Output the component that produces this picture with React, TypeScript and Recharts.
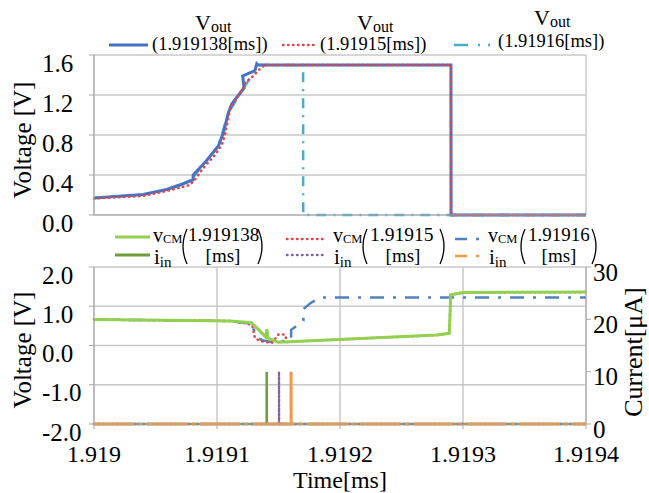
import { LineChart, Line, XAxis, YAxis, CartesianGrid } from 'recharts';

const SERIF = '"Liberation Serif", "Times New Roman", "DejaVu Serif", serif';
const GRID = '#C8C8C8';
const AXIS = '#A6A6A6';

const TIME_TICKS = [1.919, 1.9191, 1.9192, 1.9193, 1.9194];
const TOP_V_TICKS = [0, 0.4, 0.8, 1.2, 1.6];
const BOTTOM_V_TICKS = [-2, -1, 0, 1, 2];
const CURRENT_TICKS = [0, 10, 20, 30];

// Vout, top panel
const VOUT_138_T = [1.919, 1.9190401, 1.9190591, 1.9190699, 1.919078, 1.9190805, 1.9190806, 1.9190916, 1.9191011, 1.9191051, 1.9191092, 1.919112, 1.9191201, 1.919122, 1.9191209, 1.9191309, 1.9191323, 1.919133, 1.9192902, 1.9192903, 1.9194];
const VOUT_138_V = [0.17, 0.205, 0.255, 0.3, 0.34, 0.35, 0.4, 0.545, 0.69, 0.82, 1.02, 1.11, 1.24, 1.27, 1.39, 1.445, 1.51, 1.5, 1.5, 0, 0];
const VOUT_150_T = [1.919, 1.9190398, 1.9190591, 1.919078, 1.9190821, 1.9190902, 1.9190984, 1.9191038, 1.9191065, 1.9191106, 1.919116, 1.9191214, 1.9191228, 1.9191295, 1.9191363, 1.9191404, 1.9192902, 1.9192903, 1.9194];
const VOUT_150_V = [0.165, 0.19, 0.24, 0.3, 0.355, 0.49, 0.6, 0.7, 0.8, 1.055, 1.17, 1.27, 1.32, 1.39, 1.48, 1.5, 1.5, 0, 0];
const VOUT_160_T = [1.919, 1.9190401, 1.9190591, 1.919078, 1.9190916, 1.9191011, 1.9191092, 1.9191201, 1.9191309, 1.919134, 1.91917, 1.9191701, 1.9194];
const VOUT_160_V = [0.17, 0.205, 0.255, 0.34, 0.545, 0.69, 1.02, 1.24, 1.445, 1.5, 1.5, 0, 0];

// vCM, bottom panel (left axis)
const VCM_138_T = [1.919, 1.9191106, 1.9191282, 1.9191398, 1.9191404, 1.9191406, 1.9191415, 1.9191498, 1.9192786, 1.9192889, 1.91929, 1.9193002, 1.9194];
const VCM_138_V = [0.66, 0.625, 0.58, 0.213, 0.385, 0.385, 0.19, 0.085, 0.265, 0.31, 1.29, 1.35, 1.36];
const VCM_150_T = [1.919, 1.9191106, 1.9191228, 1.9191285, 1.9191295, 1.9191309, 1.919135, 1.919139, 1.9191447, 1.9191498, 1.9191553, 1.9191569, 1.9192786, 1.9192889, 1.91929, 1.9193002, 1.9194];
const VCM_150_V = [0.66, 0.625, 0.57, 0.52, 0.4, 0.18, 0.12, 0.09, 0.07, 0.28, 0.28, 0.09, 0.265, 0.31, 1.29, 1.35, 1.36];
const VCM_160_T = [1.919, 1.9191106, 1.9191187, 1.9191282, 1.9191295, 1.9191336, 1.9191376, 1.9191458, 1.9191602, 1.9191603, 1.9191702, 1.9191703, 1.9191756, 1.9191837, 1.9194];
const VCM_160_V = [0.66, 0.625, 0.585, 0.56, 0.43, 0.18, 0.13, 0.08, 0.14, 0.4, 0.63, 0.93, 1.07, 1.22, 1.22];

// iin, bottom panel (right axis, uA)
const IIN_138_T = [1.919, 1.9191404, 1.9191404, 1.9191405, 1.9194];
const IIN_138_I = [0, 0, 10, 0, 0];
const IIN_150_T = [1.919, 1.9191504, 1.9191504, 1.9191505, 1.9194];
const IIN_150_I = [0, 0, 10, 0, 0];
const IIN_160_T = [1.919, 1.9191602, 1.9191602, 1.9191603, 1.9194];
const IIN_160_I = [0, 0, 10, 0, 0];

const pts = (t: number[], v: number[]) => t.map((x, i) => ({ t: x, v: v[i] }));

const txt = { fontFamily: SERIF, fill: '#000' };

const leftTick = (p: any) => (
  <text x={42} y={p.y + 8} dominantBaseline="central" fontSize={25} style={txt}>
    {Number(p.payload.value).toFixed(1)}
  </text>
);

const rightTick = (p: any) => (
  <text x={593} y={p.y + 5} dominantBaseline="central" fontSize={25} style={txt}>
    {p.payload.value}
  </text>
);

const timeTick = (p: any) => (
  <text x={p.x} y={214} textAnchor="middle" dominantBaseline="central" fontSize={24} style={txt}>
    {String(p.payload.value)}
  </text>
);

const Paren = ({ x, right }: { x: number; right?: boolean }) => {
  const d = right ? `M ${x} 229 Q ${x + 8} 246.5 ${x} 264` : `M ${x + 6} 229 Q ${x - 2} 246.5 ${x + 6} 264`;
  return <path d={d} fill="none" stroke="#000" strokeWidth={1.3} />;
};

const Vcm = ({ x }: { x: number }) => (
  <>
    <text x={x} y={242} fontSize={20}>v<tspan fontSize={12.5} dy={1}>CM</tspan></text>
    <text x={x + 1} y={264} fontSize={21}>i<tspan fontSize={15} dy={3}>in</tspan></text>
  </>
);

export default function App() {
  return (
    <div style={{ position: 'absolute', left: 0, top: 0, width: 649, height: 493, background: '#fff', fontFamily: SERIF }}>
      <div style={{ position: 'absolute', left: 0, top: 0 }}>
        <LineChart width={649} height={238} margin={{ top: 55, right: 63, bottom: 0, left: 0 }}>
          <CartesianGrid stroke={GRID} strokeWidth={1.5} />
          <XAxis type="number" dataKey="t" domain={[1.919, 1.9194]} ticks={TIME_TICKS} tick={false} height={23} stroke={AXIS} tickSize={4} />
          <YAxis type="number" dataKey="v" domain={[0, 1.6]} ticks={TOP_V_TICKS} width={94} tick={leftTick} tickSize={5} stroke={AXIS} />
          <Line data={pts(VOUT_160_T, VOUT_160_V)} dataKey="v" stroke="#4BACC6" strokeWidth={2.5} strokeDasharray="10 7 2 7" dot={false} isAnimationActive={false} />
          <Line data={pts(VOUT_138_T, VOUT_138_V)} dataKey="v" stroke="#4472C4" strokeWidth={3} dot={false} isAnimationActive={false} />
          <Line data={pts(VOUT_150_T, VOUT_150_V)} dataKey="v" stroke="#E0474C" strokeWidth={2.5} strokeDasharray="0.5 4.5" strokeLinecap="round" dot={false} isAnimationActive={false} />
        </LineChart>
      </div>
      <div style={{ position: 'absolute', left: 0, top: 240 }}>
        <LineChart width={649} height={253} margin={{ top: 27, right: 0, bottom: 0, left: 0 }}>
          <CartesianGrid stroke={GRID} strokeWidth={1.5} yAxisId="left" />
          <XAxis type="number" dataKey="t" domain={[1.919, 1.9194]} ticks={TIME_TICKS} tick={timeTick} height={69} stroke={AXIS} tickSize={5} />
          <YAxis yAxisId="left" type="number" dataKey="v" domain={[-2, 2]} ticks={BOTTOM_V_TICKS} width={94} tick={leftTick} tickSize={5} stroke={AXIS} />
          <YAxis yAxisId="right" orientation="right" type="number" dataKey="v" domain={[0, 30]} ticks={CURRENT_TICKS} width={63} tick={rightTick} tickSize={5} stroke={AXIS} />
          <Line yAxisId="left" data={pts(VCM_160_T, VCM_160_V)} dataKey="v" stroke="#4F81BD" strokeWidth={2.5} strokeDasharray="14 9 3 9" dot={false} isAnimationActive={false} />
          <Line yAxisId="left" data={pts(VCM_150_T, VCM_150_V)} dataKey="v" stroke="#E0474C" strokeWidth={2.5} strokeDasharray="0.5 4.5" strokeLinecap="round" dot={false} isAnimationActive={false} />
          <Line yAxisId="left" data={pts(VCM_138_T, VCM_138_V)} dataKey="v" stroke="#92D050" strokeWidth={3} dot={false} isAnimationActive={false} />
          <Line yAxisId="right" data={pts(IIN_138_T, IIN_138_I)} dataKey="v" stroke="#6E9E3A" strokeWidth={2.5} dot={false} isAnimationActive={false} />
          <Line yAxisId="right" data={pts(IIN_150_T, IIN_150_I)} dataKey="v" stroke="#8064A2" strokeWidth={2.5} strokeDasharray="0.5 4" strokeLinecap="round" dot={false} isAnimationActive={false} />
          <Line yAxisId="right" data={pts(IIN_160_T, IIN_160_I)} dataKey="v" stroke="#F79646" strokeWidth={3} strokeDasharray="40 5 3 5" dot={false} isAnimationActive={false} />
        </LineChart>
      </div>
      <svg width={649} height={493} style={{ position: 'absolute', left: 0, top: 0, pointerEvents: 'none', fontFamily: SERIF }} fill="#000">
        {/* top legend */}
        <line x1={109} y1={45} x2={148} y2={45} stroke="#4472C4" strokeWidth={3} />
        <text x={195} y={30} fontSize={22}>V<tspan fontSize={16} dy={2}>out</tspan></text>
        <text x={152} y={50} fontSize={18.5}>(1.919138[ms])</text>
        <line x1={283} y1={45} x2={318} y2={45} stroke="#E0474C" strokeWidth={2.5} strokeDasharray="0.5 4.5" strokeLinecap="round" />
        <text x={357} y={30} fontSize={22}>V<tspan fontSize={16} dy={2}>out</tspan></text>
        <text x={320} y={50} fontSize={18.5}>(1.91915[ms])</text>
        <line x1={454} y1={45} x2={494} y2={45} stroke="#4BACC6" strokeWidth={2.5} strokeDasharray="14 10 2 8 2 10" />
        <text x={534} y={25} fontSize={22}>V<tspan fontSize={16} dy={2}>out</tspan></text>
        <text x={498} y={47} fontSize={18.5}>(1.91916[ms])</text>

        {/* bottom legend */}
        <line x1={115} y1={237} x2={150} y2={237} stroke="#92D050" strokeWidth={3} />
        <line x1={115} y1={255} x2={150} y2={255} stroke="#6E9E3A" strokeWidth={3} />
        <Vcm x={153} />
        <Paren x={181} />
        <text x={188} y={241} fontSize={19}>1.919138</text>
        <text x={223} y={262} fontSize={19} textAnchor="middle">[ms]</text>
        <Paren x={258} right />

        <line x1={287} y1={239} x2={323} y2={239} stroke="#E0474C" strokeWidth={2.5} strokeDasharray="0.5 4.5" strokeLinecap="round" />
        <line x1={287} y1={255} x2={323} y2={255} stroke="#8064A2" strokeWidth={2.5} strokeDasharray="0.5 4.5" strokeLinecap="round" />
        <Vcm x={333} />
        <Paren x={361} />
        <text x={370} y={241} fontSize={19.5}>1.91915</text>
        <text x={403} y={262} fontSize={19} textAnchor="middle">[ms]</text>
        <Paren x={440} right />

        <line x1={455} y1={239} x2={481} y2={239} stroke="#4F81BD" strokeWidth={2.5} strokeDasharray="12 9 3 9" />
        <line x1={455} y1={256} x2={481} y2={256} stroke="#F79646" strokeWidth={2.5} strokeDasharray="12 9 3 9" />
        <Vcm x={488} />
        <Paren x={519} />
        <text x={528} y={241} fontSize={19}>1.91916</text>
        <text x={559} y={262} fontSize={19} textAnchor="middle">[ms]</text>
        <Paren x={592} right />

        {/* axis titles */}
        <text x={340} y={480} fontSize={24} textAnchor="middle" dominantBaseline="central">Time[ms]</text>
        <text transform="translate(22,140) rotate(-90)" fontSize={25} textAnchor="middle" dominantBaseline="central">Voltage [V]</text>
        <text transform="translate(22,350) rotate(-90)" fontSize={25} textAnchor="middle" dominantBaseline="central">Voltage [V]</text>
        <text transform="translate(633,352) rotate(-90)" fontSize={26} textAnchor="middle" dominantBaseline="central">Current[μA]</text>
      </svg>
    </div>
  );
}
